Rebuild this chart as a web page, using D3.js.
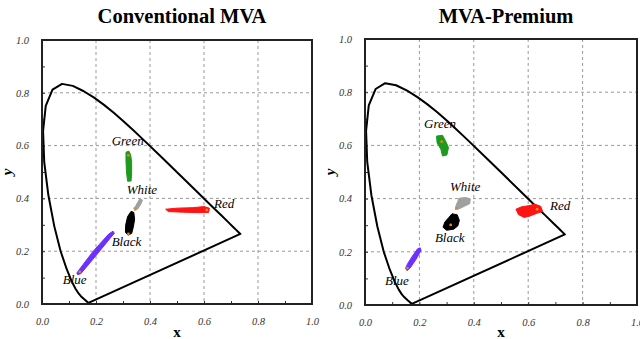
<!DOCTYPE html>
<html>
<head>
<meta charset="utf-8">
<script src="https://cdnjs.cloudflare.com/ajax/libs/d3/7.8.5/d3.min.js"></script>
<style>
  body { margin: 0; background: #fff; }
  svg { display: block; }
  text { font-family: "Liberation Serif", "Times New Roman", serif; }
</style>
</head>
<body>
<svg id="chart" width="640" height="339"></svg>
<script>
// CIE 1931 spectral locus (x, y), closed by the purple line
var locus = [
  [0.1741, 0.0050], [0.1714, 0.0051], [0.1644, 0.0109], [0.1566, 0.0177],
  [0.1440, 0.0297], [0.1355, 0.0399], [0.1241, 0.0578], [0.1096, 0.0868],
  [0.0913, 0.1327], [0.0687, 0.2007], [0.0454, 0.2950], [0.0235, 0.4127],
  [0.0082, 0.5384], [0.0039, 0.6548], [0.0139, 0.7502], [0.0389, 0.8120],
  [0.0743, 0.8338], [0.1142, 0.8262], [0.1547, 0.8059], [0.1929, 0.7816],
  [0.2296, 0.7543], [0.2658, 0.7243], [0.3016, 0.6923], [0.3373, 0.6589],
  [0.3731, 0.6245], [0.4441, 0.5547], [0.5125, 0.4866], [0.5752, 0.4242],
  [0.6270, 0.3725], [0.6658, 0.3340], [0.6915, 0.3083], [0.7079, 0.2920],
  [0.7190, 0.2809], [0.7260, 0.2740], [0.7347, 0.2653], [0.1741, 0.0050]
];

var titles = ['Conventional MVA', 'MVA-Premium'];
var majorTicks = [0, 0.2, 0.4, 0.6, 0.8, 1.0];
var minorTicks = [0.1, 0.2, 0.3, 0.4, 0.5, 0.6, 0.7, 0.8, 0.9];

// measured chromaticity clouds, outlines in (x, y)
var convGreen = [[0.311,0.575],[0.322,0.579],[0.328,0.566],[0.332,0.540],[0.332,0.500],[0.330,0.466],[0.317,0.465],[0.313,0.500],[0.311,0.540]];
var convWhite = [[0.361,0.397],[0.372,0.394],[0.367,0.380],[0.354,0.359],[0.343,0.354],[0.345,0.368],[0.354,0.384]];
var convBlack = [[0.330,0.351],[0.340,0.347],[0.343,0.320],[0.338,0.290],[0.332,0.267],[0.318,0.261],[0.309,0.272],[0.310,0.300],[0.317,0.331]];
var convRed = [[0.458,0.359],[0.500,0.363],[0.560,0.365],[0.600,0.369],[0.620,0.363],[0.617,0.347],[0.580,0.346],[0.520,0.348],[0.468,0.350]];
var convBlue = [[0.132,0.111],[0.144,0.115],[0.202,0.186],[0.254,0.251],[0.268,0.268],[0.263,0.276],[0.247,0.265],[0.189,0.199],[0.137,0.129],[0.129,0.117]];

var premGreen = [[0.263,0.635],[0.285,0.638],[0.297,0.615],[0.307,0.592],[0.301,0.564],[0.285,0.560],[0.279,0.585],[0.265,0.610]];
var premWhite = [[0.345,0.401],[0.370,0.404],[0.387,0.399],[0.385,0.381],[0.365,0.371],[0.345,0.361],[0.332,0.359],[0.335,0.375],[0.341,0.389]];
var premBlack = [[0.320,0.343],[0.339,0.339],[0.347,0.318],[0.341,0.297],[0.326,0.285],[0.300,0.281],[0.287,0.292],[0.293,0.311],[0.308,0.329]];
var premRed = [[0.555,0.360],[0.575,0.369],[0.600,0.373],[0.625,0.379],[0.646,0.371],[0.653,0.352],[0.630,0.344],[0.605,0.334],[0.585,0.329],[0.564,0.340]];
var premBlue = [[0.149,0.138],[0.155,0.129],[0.166,0.139],[0.186,0.169],[0.206,0.205],[0.203,0.215],[0.193,0.211],[0.174,0.183],[0.157,0.156]];

// orange markers (target points)
var convTargets = [[0.320,0.563],[0.344,0.362],[0.320,0.266],[0.610,0.356],[0.140,0.122]];
var premTargets = [[0.282,0.614],[0.337,0.364],[0.315,0.301],[0.633,0.360],[0.156,0.139]];

// label anchors: [text, x, y]
var convLabels = [['Green',0.258,0.604],['White',0.314,0.416],['Red',0.637,0.362],['Black',0.258,0.220],['Blue',0.077,0.076]];
var premLabels = [['Green',0.217,0.664],['White',0.3125,0.429],['Red',0.680,0.357],['Black',0.257,0.238],['Blue',0.0735,0.075]];

var colors = { Green: '#1e9a1e', White: '#a0a0a0', Black: '#000', Red: '#ff1414', Blue: '#6e30ff' };

var panels = [
  { title: titles[0], left: 42, right: 312, top: 40, bottom: 304,
    blobs: [['Green', convGreen], ['White', convWhite], ['Black', convBlack], ['Red', convRed], ['Blue', convBlue]],
    targets: convTargets, labels: convLabels },
  { title: titles[1], left: 365, right: 637, top: 39, bottom: 305,
    blobs: [['Green', premGreen], ['White', premWhite], ['Black', premBlack], ['Red', premRed], ['Blue', premBlue]],
    targets: premTargets, labels: premLabels }
];

var svg = d3.select('#chart');

panels.forEach(function(p) {
  var x = d3.scaleLinear().domain([0, 1]).range([p.left, p.right]);
  var y = d3.scaleLinear().domain([0, 1]).range([p.bottom, p.top]);
  var g = svg.append('g');

  // dashed grid
  g.selectAll('line.gx').data(majorTicks.slice(1, -1)).enter().append('line')
      .attr('x1', d => x(d)).attr('x2', d => x(d))
      .attr('y1', p.top).attr('y2', p.bottom)
      .attr('stroke', '#999').attr('stroke-dasharray', '3,3');
  g.selectAll('line.gy').data(majorTicks.slice(1, -1)).enter().append('line')
      .attr('y1', d => y(d)).attr('y2', d => y(d))
      .attr('x1', p.left).attr('x2', p.right)
      .attr('stroke', '#999').attr('stroke-dasharray', '3,3');

  // inward minor ticks
  g.append('g').attr('transform', 'translate(0,' + p.bottom + ')')
      .call(d3.axisBottom(x).tickValues(minorTicks).tickSize(-3).tickFormat(''))
      .call(a => a.select('.domain').remove())
      .selectAll('line').attr('stroke', '#333');
  g.append('g').attr('transform', 'translate(' + p.left + ',0)')
      .call(d3.axisLeft(y).tickValues(minorTicks).tickSize(-3).tickFormat(''))
      .call(a => a.select('.domain').remove())
      .selectAll('line').attr('stroke', '#333');

  // tick labels
  var xa = g.append('g').attr('transform', 'translate(0,' + p.bottom + ')')
      .call(d3.axisBottom(x).tickValues(majorTicks).tickSize(0).tickPadding(14).tickFormat(d3.format('.1f')))
      .attr('font-family', '"Liberation Serif", serif').attr('font-size', 10.5);
  xa.select('.domain').remove();
  xa.selectAll('text').attr('font-style', 'italic').attr('fill', '#333');
  var ya = g.append('g').attr('transform', 'translate(' + p.left + ',0)')
      .call(d3.axisLeft(y).tickValues(majorTicks).tickSize(0).tickPadding(13).tickFormat(d3.format('.1f')))
      .attr('font-family', '"Liberation Serif", serif').attr('font-size', 10.5);
  ya.select('.domain').remove();
  ya.selectAll('text').attr('font-style', 'italic').attr('fill', '#333');

  // spectral locus
  var line = d3.line().x(d => x(d[0])).y(d => y(d[1]));
  g.append('path').attr('d', line(locus))
      .attr('fill', 'none').attr('stroke', '#000').attr('stroke-width', 2)
      .attr('stroke-linejoin', 'round');

  // colour clouds
  var area = d3.line().x(d => x(d[0])).y(d => y(d[1])).curve(d3.curveLinearClosed);
  g.selectAll('path.blob').data(p.blobs).enter().append('path')
      .attr('class', 'blob')
      .attr('d', d => area(d[1]))
      .attr('fill', d => colors[d[0]])
      .attr('stroke', d => colors[d[0]]).attr('stroke-width', 1);

  g.selectAll('circle.t').data(p.targets).enter().append('circle')
      .attr('cx', d => x(d[0])).attr('cy', d => y(d[1])).attr('r', 1.4)
      .attr('fill', '#e08a1c');

  g.selectAll('text.lab').data(p.labels).enter().append('text')
      .attr('x', d => x(d[1])).attr('y', d => y(d[2]))
      .attr('font-size', 13).attr('font-style', 'italic')
      .text(d => d[0]);

  // frame
  g.append('rect').attr('x', p.left).attr('y', p.top)
      .attr('width', p.right - p.left).attr('height', p.bottom - p.top)
      .attr('fill', 'none').attr('stroke', '#222').attr('stroke-width', 2);

  // titles and axis names
  g.append('text').attr('x', (p.left + p.right) / 2 + 5).attr('y', 23)
      .attr('text-anchor', 'middle').attr('font-size', 20.5).attr('font-weight', 'bold')
      .text(p.title);
  g.append('text').attr('x', x(0.5)).attr('y', 337)
      .attr('text-anchor', 'middle').attr('font-size', 15).attr('font-weight', 'bold')
      .text('x');
  g.append('text')
      .attr('transform', 'translate(' + (p.left - 30) + ',' + y(0.5) + ') rotate(-90)')
      .attr('text-anchor', 'middle').attr('font-size', 15).attr('font-weight', 'bold')
      .attr('font-style', 'italic')
      .text('y');
});
</script>
</body>
</html>
